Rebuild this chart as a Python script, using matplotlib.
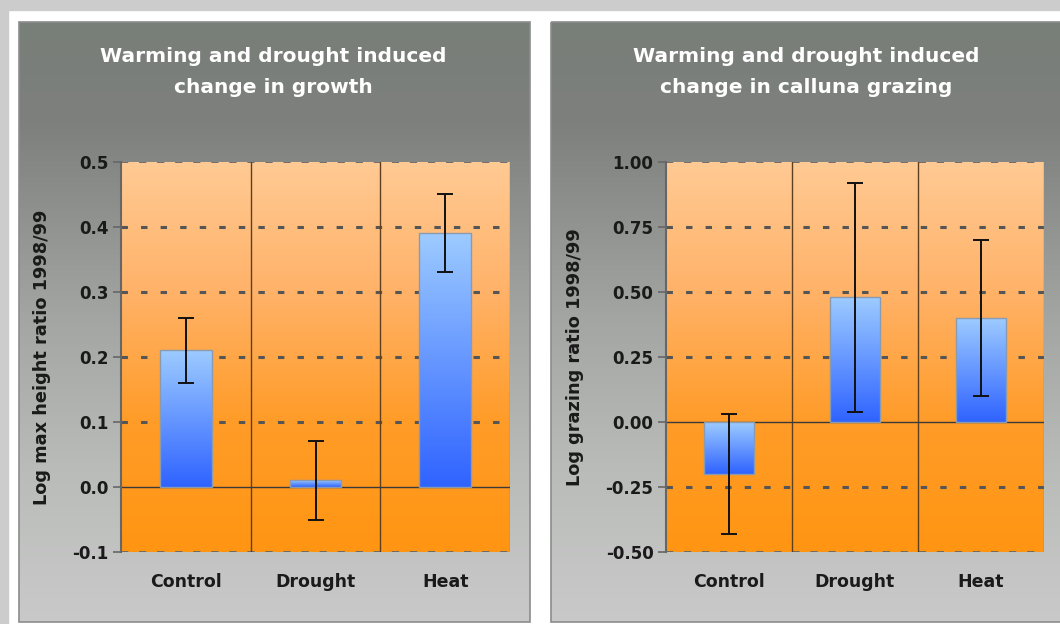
import matplotlib.pyplot as plt
import numpy as np
from matplotlib.colors import LinearSegmentedColormap
from matplotlib.patches import Rectangle

categories = ['Control', 'Drought', 'Heat']

growth = [0.21, 0.01, 0.39]
growth_err = [0.05, 0.06, 0.06]
growth_ticks = [-0.1, 0.0, 0.1, 0.2, 0.3, 0.4, 0.5]

grazing = [-0.20, 0.48, 0.40]
grazing_err = [0.23, 0.44, 0.30]
grazing_ticks = [-0.50, -0.25, 0.00, 0.25, 0.50, 0.75, 1.00]

titles = ['Warming and drought induced\nchange in growth',
          'Warming and drought induced\nchange in calluna grazing']
ylabels = ['Log max height ratio 1998/99', 'Log grazing ratio 1998/99']

W, H = 1060, 624
panel_cmap = LinearSegmentedColormap.from_list(
    'panel', [(0, '#787e78'), (0.17, '#7e807e'), (0.5, '#a3a6a3'),
              (0.75, '#b9bcb9'), (1, '#c9c9c9')])
orange_cmap = LinearSegmentedColormap.from_list(
    'orange', ['#ffca94', '#ffb268', '#ff9c28', '#ff9512'])
blue_cmap = LinearSegmentedColormap.from_list('blue', ['#9dcbff', '#2f63ff'])
grad = np.linspace(0, 1, 256).reshape(-1, 1)

fig = plt.figure(figsize=(W / 100, H / 100), dpi=100, facecolor='white')

# page background and the two grey panels
bg = fig.add_axes([0, 0, 1, 1], zorder=-10)
bg.add_patch(Rectangle((0, 0), W, 10, color='#cccccc'))
bg.add_patch(Rectangle((0, 0), 8, H, color='#cccccc'))
for x0, x1 in [(19, 530), (551, 1062)]:
    bg.imshow(grad, cmap=panel_cmap, extent=(x0, x1, 622, 22), aspect='auto')
    bg.add_patch(Rectangle((x0, 22), x1 - x0, 600, fill=False, ec='#8c8c8c', lw=1.2))
bg.set_xlim(0, W)
bg.set_ylim(H, 0)
bg.axis('off')

panels = [
    (growth, growth_err, growth_ticks, '{:.1f}', (121, 510), 273, 42),
    (grazing, grazing_err, grazing_ticks, '{:.2f}', (666, 1044), 806, 575),
]
top_px, bot_px = 162, 552
x = np.arange(len(categories))

for i, (vals, errs, ticks, fmt, (l, r), tx, lx) in enumerate(panels):
    ax = fig.add_axes([l / W, 1 - bot_px / H, (r - l) / W, (bot_px - top_px) / H])
    ax.set_facecolor('none')
    lo, hi = ticks[0], ticks[-1]
    ax.imshow(grad, cmap=orange_cmap, extent=(-0.5, 2.5, lo, hi), aspect='auto', zorder=0)

    for t in ticks:
        if t == 0:
            ax.axhline(0, color='#3a3a3a', lw=1, zorder=1.6)
        elif t in (lo, hi):
            ax.axhline(t, color='#666666', lw=1.3, linestyle=(0, (4, 6)), zorder=1.5)
        else:
            ax.axhline(t, color='#555555', lw=2.2, linestyle=(0, (2.1, 4.3)), zorder=1.5)
    for sep in (0.5, 1.5):
        ax.axvline(sep, color='#5e4020', lw=1, zorder=1.5)
    ax.axvline(2.5, color='#a07850', lw=1, zorder=1.5)

    bars = ax.bar(x, vals, width=0.4, color='none', edgecolor='#8a9bb0', lw=1, zorder=3)
    for b in bars:
        y0, y1 = sorted([b.get_y(), b.get_y() + b.get_height()])
        ax.imshow(grad, cmap=blue_cmap, extent=(b.get_x(), b.get_x() + b.get_width(), y0, y1),
                  aspect='auto', zorder=2)
    ax.errorbar(x, vals, yerr=errs, fmt='none', ecolor='#111111', elinewidth=1.4,
                capsize=5.5, capthick=1.4, zorder=4)

    ax.set_xlim(-0.5, 2.5)
    ax.set_ylim(lo, hi)
    ax.set_yticks(ticks, [fmt.format(t) for t in ticks], fontweight='bold', fontsize=12)
    ax.set_xticks(x, categories, fontweight='bold', fontsize=12.5)
    ax.tick_params(axis='y', length=6, width=1.2, color='#666666', pad=3, labelcolor='#1a1a1a')
    ax.tick_params(axis='x', length=0, pad=15, labelcolor='#1a1a1a')
    for side in ('top', 'right', 'bottom'):
        ax.spines[side].set_visible(False)
    ax.spines['left'].set_color('#666666')
    ax.spines['left'].set_linewidth(1.5)

    fig.text(tx / W, 1 - 72 / H, titles[i], ha='center', va='center', color='white',
             fontsize=14.5, fontweight='bold', linespacing=1.8)
    fig.text(lx / W, 1 - 357 / H, ylabels[i], rotation=90, ha='center', va='center',
             fontsize=12.8, fontweight='bold', color='#1a1a1a')

fig.savefig('out.png', dpi=100)
